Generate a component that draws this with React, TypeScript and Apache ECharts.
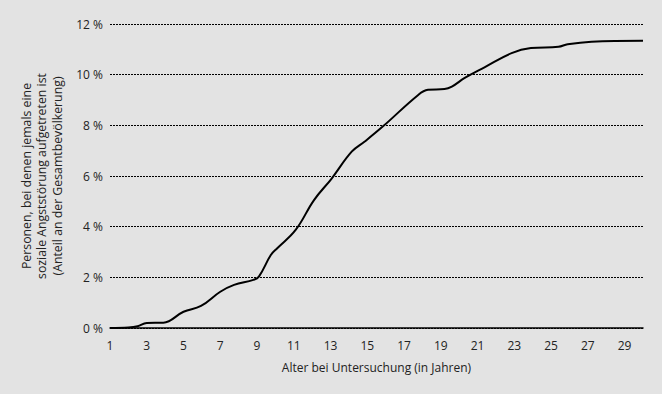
import React, { useEffect, useRef } from "react";
import * as echarts from "echarts";

const ages = [1, 2, 2.5, 3.0, 3.9, 5.0, 5.95, 7.0, 7.75, 8.8, 9.1, 9.75, 10.1, 11.1, 12.1, 13.06, 14.15, 14.86, 15.87, 17.77, 18.3, 19.2, 19.6, 20.3, 21.4, 22.85, 23.9, 25.4, 25.9, 27.2, 30];
const shares = [0, 0.02, 0.07, 0.2, 0.21, 0.64, 0.87, 1.43, 1.7, 1.9, 2.03, 2.88, 3.15, 3.87, 5.05, 5.9, 6.96, 7.36, 7.97, 9.2, 9.4, 9.43, 9.53, 9.87, 10.3, 10.85, 11.05, 11.1, 11.2, 11.3, 11.34];

const xTitle = "Alter bei Untersuchung (in Jahren)";
const yTitle = "Personen, bei denen jemals eine\nsoziale Angststörung aufgetreten ist\n(Anteil an der Gesamtbevölkerung)";

const FONT = "Open Sans";

export default function App() {
  const ref = useRef<HTMLDivElement>(null);
  useEffect(() => {
    if (!ref.current) return;
    const chart = echarts.init(ref.current, null, { renderer: "svg" });
    chart.setOption({
      animation: false,
      backgroundColor: "#e3e3e3",
      textStyle: { fontFamily: FONT },
      grid: { left: 110, right: 19, top: 24, bottom: 66, containLabel: false },
      xAxis: {
        type: "value",
        min: 1,
        max: 30,
        interval: 1,
        name: xTitle,
        nameLocation: "middle",
        nameGap: 33,
        nameTextStyle: { fontFamily: FONT, fontSize: 12, color: "#222" },
        axisLine: { show: true, lineStyle: { color: "#000", width: 1.5 } },
        axisTick: { show: false },
        splitLine: { show: false },
        axisLabel: {
          fontFamily: FONT,
          fontSize: 12,
          color: "#222",
          margin: 11,
          formatter: (v: number) => (Math.round(v) % 2 === 1 ? String(v) : ""),
        },
      },
      yAxis: {
        type: "value",
        min: 0,
        max: 12,
        interval: 2,
        name: yTitle,
        nameLocation: "middle",
        nameGap: 45,
        nameRotate: 90,
        nameTextStyle: { fontFamily: FONT, fontSize: 12.3, color: "#222", lineHeight: 15.5 },
        axisLine: { show: false },
        axisTick: { show: false },
        splitLine: { show: true, lineStyle: { color: "#000", type: [2, 1], width: 1 } },
        axisLabel: {
          fontFamily: FONT,
          fontSize: 12,
          color: "#222",
          margin: 7,
          formatter: (v: number) => `${v} %`,
        },
      },
      series: [
        {
          type: "line",
          data: ages.map((a, i) => [a, shares[i]]),
          smooth: 0.4,
          showSymbol: false,
          lineStyle: { color: "#000", width: 2 },
          z: 5,
        },
      ],
    });
    return () => chart.dispose();
  }, []);
  return <div ref={ref} style={{ position: "fixed", left: 0, top: 0, width: 662, height: 394 }} />;
}
